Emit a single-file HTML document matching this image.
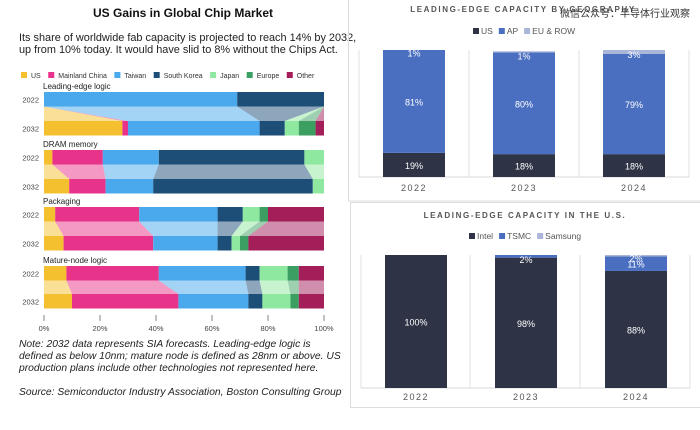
<!DOCTYPE html>
<html><head><meta charset="utf-8">
<style>
html,body{margin:0;padding:0;background:#fff;}
svg{display:block;font-family:"Liberation Sans","Noto Sans CJK SC",sans-serif;}
</style></head>
<body>
<svg id="s" width="700" height="430" viewBox="0 0 700 430" xmlns="http://www.w3.org/2000/svg">
  <g id="left">
    <text x="183" y="17" text-anchor="middle" font-size="12" font-weight="bold" fill="#111">US Gains in Global Chip Market</text>
    <text x="19" y="41" font-size="10.9" fill="#222">Its share of worldwide fab capacity is projected to reach 14% by 2032,</text>
    <text x="19" y="53" font-size="10.9" fill="#222">up from 10% today. It would have slid to 8% without the Chips Act.</text>
    <g id="legendL"></g>
    <g id="ribbons"></g>
    <g id="bars"></g>
    <g id="xaxis"></g>
    <text x="19" y="347" font-size="10.3" font-style="italic" fill="#222">Note: 2032 data represents SIA forecasts. Leading-edge logic is</text>
    <text x="19" y="359" font-size="10.3" font-style="italic" fill="#222">defined as below 10nm; mature node is defined as 28nm or above. US</text>
    <text x="19" y="371" font-size="10.3" font-style="italic" fill="#222">production plans include other technologies not represented here.</text>
    <text x="19" y="395" font-size="10.3" font-style="italic" fill="#222">Source: Semiconductor Industry Association, Boston Consulting Group</text>
  </g>
  <rect x="348.5" y="-1" width="352" height="202" fill="none" stroke="#ddd"/>
  <rect x="350.5" y="202.5" width="350" height="205" fill="none" stroke="#ddd"/>
  <g id="top"></g>
  <g id="bot"></g>
  <text x="690" y="17" text-anchor="end" font-size="10" fill="#333">微信公众号：半导体行业观察</text>
</svg>
<script>
const NS="http://www.w3.org/2000/svg";
function mk(tag,attrs,parent,txt){const e=document.createElementNS(NS,tag);for(const k in attrs)e.setAttribute(k,attrs[k]);if(txt!=null)e.textContent=txt;parent.appendChild(e);return e;}

// ---- Left chart data ----
const regions=["US","Mainland China","Taiwan","South Korea","Japan","Europe","Other"];
const regionColors=["#f5c030","#e8338a","#4aa9ec","#1d4e78","#8fe8a0","#3c9f62","#a41e5a"];
const segments=["Leading-edge logic","DRAM memory","Packaging","Mature-node logic"];
const years=["2022","2032"];
const le2022=[0,0,69,31,0,0,0];
const le2032=[28,2,47,9,5,6,3];
const dram2022=[3,18,20,52,7,0,0];
const dram2032=[9,13,17,57,4,0,0];
const pkg2022=[4,30,28,9,6,3,20];
const pkg2032=[7,32,23,5,3,3,27];
const mat2022=[8,33,31,5,10,4,9];
const mat2032=[10,38,25,5,10,3,9];
const xTicks=[0,20,40,60,80,100];
const segData=[[le2022,le2032],[dram2022,dram2032],[pkg2022,pkg2032],[mat2022,mat2032]];

const X0=44,X1=324;
const xs=v=>X0+(X1-X0)*v/100;
const rowTop=[[92,121],[150,179],[207,236],[266,294]];
const rowH=14.5;

const lg=document.getElementById('legendL');
let lx=21;
regions.forEach((r,i)=>{
  const sq=mk('rect',{x:lx,y:72,width:6,height:6,fill:regionColors[i]},lg);
  
  
  const t=mk('text',{x:lx+10,y:78,'font-size':7,fill:'#333'},lg,r);
  
  
  lx+=10+t.getComputedTextLength()+7.5;
});

const rb=document.getElementById('ribbons'),bg=document.getElementById('bars'),ax=document.getElementById('xaxis');
segData.forEach((pair,s)=>{
  const lab=mk('text',{x:43,y:rowTop[s][0]-3,'font-size':8,fill:'#222'},bg,segments[s]);
  
  
  const cum=pair.map(arr=>{let c=0;return arr.map(v=>{const a=c;c+=v;return [a,c];});});
  const yA=rowTop[s][0]+rowH,yB=rowTop[s][1];
  for(let i=0;i<regions.length;i++){
    const a=cum[0][i],b=cum[1][i];
    const p=mk('polygon',{points:`${xs(a[0])},${yA} ${xs(a[1])},${yA} ${xs(b[1])},${yB} ${xs(b[0])},${yB}`,fill:regionColors[i],opacity:0.5},rb);
    
    
  }
  pair.forEach((arr,yi)=>{
    const y=rowTop[s][yi];
    const yl=mk('text',{x:39,y:y+rowH/2+3,'font-size':7.5,fill:'#444','text-anchor':'end'},bg,years[yi]);
    
    
    cum[yi].forEach((c,i)=>{
      if(c[1]-c[0]<=0)return;
      const r=mk('rect',{x:xs(c[0]),y:y,width:xs(c[1])-xs(c[0]),height:rowH,fill:regionColors[i]},bg);
      
      
    });
  });
});
xTicks.forEach(v=>{
  const l=mk('line',{x1:xs(v),x2:xs(v),y1:315,y2:321,stroke:'#666','stroke-width':0.8},ax);
  
  
  const t=mk('text',{x:xs(v),y:331,'font-size':7.5,fill:'#444','text-anchor':'middle'},ax,v+'%');
  
  
});

// ---- Right charts data ----
const barYears=["2022","2023","2024"];
const geoUS=[19,18,18];
const geoAP=[81,80,79];
const geoEU=[1,1,3];
const usIntel=[100,98,88];
const usTSMC=[0,2,11];
const usSamsung=[0,0,2];
const darkC="#2e3446",blueC="#4a6fc0",lightC="#a9b5d9";

function stacked(g,cfg){
  const t=mk('text',{x:cfg.cx,y:cfg.titleY,'font-size':8,'font-weight':'bold','letter-spacing':'1.6',fill:'#555','text-anchor':'middle'},g,cfg.title);
  
  
  let lx=cfg.legX;
  cfg.series.forEach((s,i)=>{
    const sq=mk('rect',{x:lx,y:cfg.legY-6,width:6,height:6,fill:s.color},g);
    
    
    const tt=mk('text',{x:lx+8,y:cfg.legY,'font-size':8.5,fill:'#555'},g,s.name);
    
    
    lx+=8+tt.getComputedTextLength()+6;
  });
  cfg.grid.forEach(x=>{
    const l=mk('line',{x1:x,x2:x,y1:cfg.top,y2:cfg.bottom,stroke:'#e2e2e2'},g);
    
    
  });
  const bl=mk('line',{x1:cfg.grid[0],x2:cfg.grid[cfg.grid.length-1],y1:cfg.bottom,y2:cfg.bottom,stroke:'#d8d8d8'},g);
  
  
  const ys=v=>(cfg.bottom-cfg.top)*v/100;
  const clipId='clip'+cfg.title.length;
  const cp=mk('clipPath',{id:clipId},g);
  mk('rect',{x:0,y:cfg.top,width:700,height:cfg.bottom-cfg.top},cp);
  const bars=mk('g',{'clip-path':`url(#${clipId})`},g);
  barYears.forEach((yr,j)=>{
    const x=cfg.barX[j];
    let acc=0;
    cfg.series.forEach((s,i)=>{
      const v=s.data[j];
      if(v<=0)return;
      const y1=cfg.bottom-ys(acc+v),h=ys(v);
      const r=mk('rect',{x:x,y:y1,width:cfg.bw,height:h,fill:s.color},bars);
      
      
      const lt=mk('text',{x:x+cfg.bw/2,y:y1+Math.max(h/2,4)+4,'font-size':9,fill:'#fff','text-anchor':'middle'},bars,v+'%');
      
      
      acc+=v;
    });
    const yl=mk('text',{x:x+cfg.bw/2,y:cfg.bottom+cfg.yearOff,'font-size':9,'letter-spacing':'1.5',fill:'#555','text-anchor':'middle'},g,yr);
    
    
  });
}
stacked(document.getElementById('top'),{title:"LEADING-EDGE CAPACITY BY GEOGRAPHY",cx:523,titleY:12,legX:473,legY:34,top:50,bottom:177,
  grid:[359,469,579,689],barX:[383,493,603],bw:62,yearOff:14,
  series:[{name:"US",data:geoUS,color:darkC},{name:"AP",data:geoAP,color:blueC},{name:"EU & ROW",data:geoEU,color:lightC}]});
stacked(document.getElementById('bot'),{title:"LEADING-EDGE CAPACITY IN THE U.S.",cx:525,titleY:218,legX:469,legY:239,top:255,bottom:388,
  grid:[361,470,580,690],barX:[385,495,605],bw:62,yearOff:12,
  series:[{name:"Intel",data:usIntel,color:darkC},{name:"TSMC",data:usTSMC,color:blueC},{name:"Samsung",data:usSamsung,color:lightC}]});
</script>
</body></html>
